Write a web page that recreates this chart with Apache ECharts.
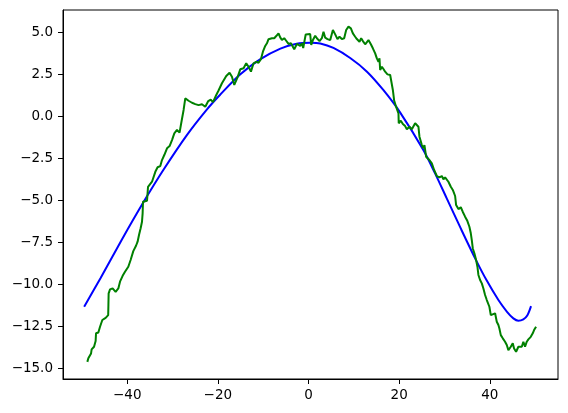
<!DOCTYPE html>
<html><head><meta charset="utf-8">
<script src="https://cdn.jsdelivr.net/npm/echarts@6/dist/echarts.min.js"></script>
<style>html,body{margin:0;padding:0;background:#fff}#c{width:568px;height:413px}</style>
</head><body><div id="c"></div>
<script>
const greenX = [-48.80,-48.58,-47.98,-47.85,-47.32,-46.97,-46.88,-46.37,-46.00,-45.49,-44.76,-44.20,-44.15,-44.10,-43.79,-43.22,-42.56,-41.96,-41.59,-41.01,-40.49,-39.76,-39.25,-38.88,-38.66,-38.06,-37.71,-37.40,-37.04,-36.74,-36.60,-36.52,-35.63,-35.41,-34.53,-33.80,-33.30,-32.70,-32.33,-31.82,-31.22,-30.65,-30.12,-29.61,-29.02,-28.45,-28.07,-27.56,-27.19,-26.81,-26.46,-25.71,-24.98,-24.26,-23.51,-22.78,-22.12,-21.57,-21.08,-20.35,-19.85,-19.10,-18.15,-17.42,-16.89,-16.38,-15.66,-15.06,-14.33,-13.74,-13.23,-12.70,-12.13,-11.53,-11.03,-10.50,-10.06,-9.55,-9.17,-8.82,-8.07,-7.56,-7.12,-6.62,-6.24,-5.87,-5.36,-4.92,-4.41,-3.88,-3.15,-2.56,-1.83,-1.46,-1.17,-0.62,0.37,0.60,0.97,1.48,1.85,2.43,2.95,3.31,3.68,4.19,4.79,5.38,5.89,6.39,6.84,7.36,7.87,8.31,8.82,9.35,9.79,10.30,10.67,11.25,11.62,12.00,12.50,13.23,13.76,14.20,14.71,15.08,15.44,15.66,15.81,16.19,16.54,16.91,17.42,18.02,18.39,18.61,18.90,19.34,19.85,19.91,20.37,20.82,21.32,21.70,22.27,22.80,23.53,23.90,24.26,24.48,25.01,25.36,25.58,25.95,26.68,27.21,27.72,28.31,28.89,29.42,29.77,30.14,30.52,30.87,31.40,31.84,32.35,32.57,33.08,33.60,34.05,34.55,35.06,35.50,35.81,36.03,36.25,36.60,36.98,37.27,37.49,37.86,38.24,38.59,38.96,39.34,39.91,40.22,40.66,41.17,41.54,41.90,42.12,42.43,42.87,43.37,43.75,44.10,44.63,45.07,45.36,45.80,46.31,46.68,47.06,47.41,47.78,48.16,48.51,49.04,49.48,49.77,50.21];
const greenY = [-14.63,-14.42,-14.13,-13.89,-13.73,-13.39,-12.93,-12.88,-12.54,-12.14,-12.01,-11.85,-11.25,-10.55,-10.32,-10.26,-10.46,-10.26,-9.86,-9.51,-9.27,-8.97,-8.57,-8.47,-8.04,-7.72,-7.48,-7.08,-6.68,-6.29,-5.79,-5.10,-5.04,-4.21,-3.91,-3.32,-3.05,-2.98,-2.62,-2.32,-1.92,-1.79,-1.43,-1.03,-0.83,-0.99,-0.40,0.36,1.05,1.11,0.91,0.79,0.71,0.65,0.70,0.55,0.89,0.98,0.83,1.25,1.52,1.95,2.38,2.58,2.34,1.85,2.30,2.78,2.84,3.14,2.93,2.64,3.14,3.23,3.17,3.38,3.83,4.17,4.33,4.57,4.63,4.63,4.76,4.92,4.68,4.52,4.63,4.48,4.29,4.33,3.97,4.29,4.17,4.33,4.05,4.85,4.88,4.23,4.52,4.78,4.63,4.46,4.63,5.02,4.66,4.58,4.52,5.12,4.86,4.58,4.72,4.58,4.63,5.12,5.32,5.22,4.92,4.72,4.58,4.42,4.63,4.46,4.27,4.52,4.27,4.03,3.73,3.43,3.23,3.43,2.74,2.93,2.80,2.64,2.48,2.44,2.34,1.55,0.92,0.54,0.16,-0.43,-0.28,-0.48,-0.60,-0.79,-0.64,-0.79,-0.43,-0.34,-0.64,-1.23,-1.73,-1.92,-1.73,-2.42,-2.62,-2.82,-3.21,-3.57,-3.65,-3.57,-3.77,-3.65,-3.71,-3.91,-4.21,-4.40,-4.76,-5.30,-5.54,-5.43,-5.71,-5.99,-6.25,-6.59,-6.98,-7.38,-7.88,-8.17,-8.57,-8.97,-9.46,-9.76,-9.96,-10.26,-10.65,-10.95,-11.35,-11.85,-11.95,-11.74,-12.24,-12.44,-12.64,-13.04,-13.23,-13.43,-13.63,-13.93,-13.73,-13.53,-13.83,-14.03,-13.73,-13.63,-13.73,-13.43,-13.73,-13.43,-13.29,-13.14,-12.93,-12.74,-12.54];
const blueX = [-49.5,-45.9,-41.2,-36.4,-32.0,-26.8,-22.4,-19.5,-15.1,-10.7,-6.2,-2.6,0.4,2.6,5.5,9.2,12.9,16.5,20.2,25.4,27.9,30.5,33.7,37.1,39.3,41.9,43.8,45.2,46.3,47.4,48.3,49.1];
const blueY = [-11.35,-9.65,-7.36,-5.12,-3.20,-1.12,0.40,1.27,2.47,3.37,4.01,4.30,4.36,4.32,4.05,3.45,2.64,1.55,0.22,-2.05,-3.40,-4.90,-6.75,-8.65,-9.78,-10.95,-11.65,-12.04,-12.18,-12.10,-11.85,-11.31];
const xTicks = [-40,-20,0,20,40];
const yTicks = [-15,-12.5,-10,-7.5,-5,-2.5,0,2.5,5];

const fmtX = v => (v < 0 ? '\u2212' : '') + Math.abs(v).toFixed(0);
const fmtY = v => (v < 0 ? '\u2212' : '') + Math.abs(v).toFixed(1);
const font = {fontFamily: 'DejaVu Sans', fontSize: 13.5, color: '#000'};

const chart = echarts.init(document.getElementById('c'), null, {renderer: 'canvas'});
chart.setOption({
  animation: false,
  backgroundColor: '#fff',
  grid: {left: 63, right: 10, top: 10, bottom: 34, show: true, borderColor: '#000', borderWidth: 1, containLabel: false},
  xAxis: {
    type: 'value', min: -54.17, max: 55.05,
    splitLine: {show: false},
    axisLine: {onZero: false, lineStyle: {color: '#000', width: 1}},
    axisTick: {show: true, length: 5, lineStyle: {color: '#000', width: 1}, customValues: xTicks},
    axisLabel: Object.assign({margin: 9, customValues: xTicks, formatter: fmtX}, font)
  },
  yAxis: {
    type: 'value', min: -15.65, max: 6.31,
    splitLine: {show: false},
    axisLine: {onZero: false, lineStyle: {color: '#000', width: 1}},
    axisTick: {show: true, length: 5, lineStyle: {color: '#000', width: 1}, customValues: yTicks},
    axisLabel: Object.assign({margin: 10, customValues: yTicks, formatter: fmtY}, font)
  },
  series: [
    {type: 'line', data: blueX.map((x, i) => [x, blueY[i]]), showSymbol: false, smooth: 0.3,
     lineStyle: {color: '#0000ff', width: 2}, itemStyle: {color: '#0000ff'}},
    {type: 'line', data: greenX.map((x, i) => [x, greenY[i]]), showSymbol: false,
     lineStyle: {color: '#008000', width: 2}, itemStyle: {color: '#008000'}}
  ]
});
</script>
</body></html>
